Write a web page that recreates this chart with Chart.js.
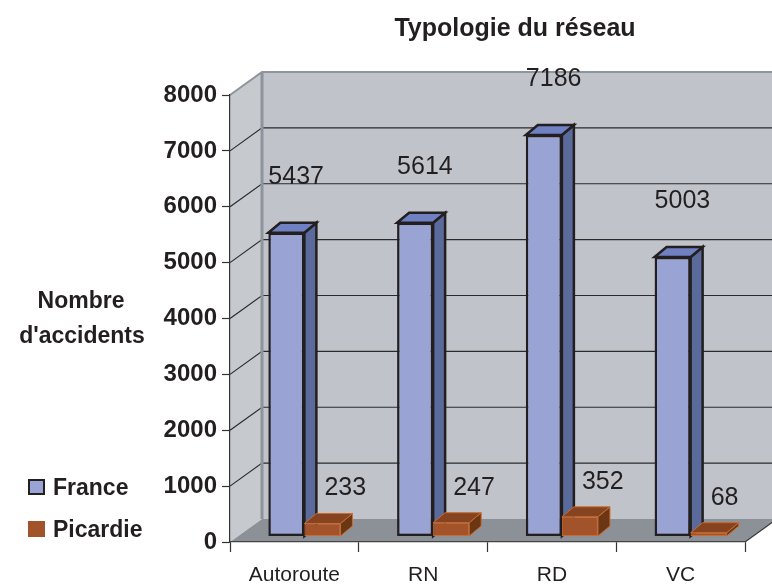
<!DOCTYPE html>
<html>
<head>
<meta charset="utf-8">
<script src="https://cdn.jsdelivr.net/npm/chart.js@4.4.1/dist/chart.umd.min.js"></script>
<style>
  html, body { margin: 0; padding: 0; background: #fff; }
  #wrap { width: 772px; height: 585px; position: relative; }
</style>
</head>
<body>
<div id="wrap"><canvas id="chart"></canvas></div>
<script>
const categories = ['Autoroute', 'RN', 'RD', 'VC'];
const franceValues = [5437, 5614, 7186, 5003];
const picardieValues = [233, 247, 352, 68];
const seriesNames = ['France', 'Picardie'];
const yTicks = [0, 1000, 2000, 3000, 4000, 5000, 6000, 7000, 8000];

const chartTitle = 'Typologie du réseau';
const yTitle = ['Nombre', "d'accidents"];

const FONT = "'Liberation Sans', Arial, sans-serif";
const INK = '#231F20';

// depth of the box (walls) and where the bars sit inside it
const WALL_DX = 32, WALL_DY = -23;
const BAR_DX = 10, BAR_DY = -5.5;
const FACE_DX = 12, FACE_DY = -10;

const faces = [
  { front: '#99A4D4', side: '#5A6A9B', top: '#6F80C3', line: INK, width: 2.5, labelX: 0, labelUp: 56 },
  { front: '#A3532A', side: '#6A3614', top: '#85431F', line: '#C96B31', width: 1, labelX: 20, labelUp: 35 }
];

function poly(ctx, pts, fill, stroke, lw) {
  ctx.beginPath();
  ctx.moveTo(pts[0][0], pts[0][1]);
  for (let i = 1; i < pts.length; i++) ctx.lineTo(pts[i][0], pts[i][1]);
  ctx.closePath();
  if (fill) { ctx.fillStyle = fill; ctx.fill(); }
  if (stroke) { ctx.strokeStyle = stroke; ctx.lineWidth = lw; ctx.lineJoin = 'miter'; ctx.stroke(); }
}

// side + top of one bar, from the element Chart.js laid out
function drawBox(ctx, bar, f) {
  const p = bar.getProps(['x', 'y', 'base', 'width'], true);
  const L = p.x - p.width / 2, R = p.x + p.width / 2;
  const top = Math.min(p.y, p.base), base = Math.max(p.y, p.base);
  poly(ctx, [[R, top], [R + FACE_DX, top + FACE_DY], [R + FACE_DX, base + FACE_DY], [R, base]], f.side, f.line, f.width);
  poly(ctx, [[L, top], [L + FACE_DX, top + FACE_DY], [R + FACE_DX, top + FACE_DY], [R, top]], f.top, f.line, f.width);
}

const box3d = {
  id: 'box3d',
  beforeDraw(chart) {
    const { ctx, chartArea: ca, scales } = chart;
    const y = scales.y;
    ctx.save();
    // side wall
    poly(ctx, [[ca.left, ca.top], [ca.left + WALL_DX, ca.top + WALL_DY],
      [ca.left + WALL_DX, ca.bottom + WALL_DY], [ca.left, ca.bottom]], '#C6CACF');
    // back wall
    poly(ctx, [[ca.left + WALL_DX, ca.top + WALL_DY], [ca.right + WALL_DX, ca.top + WALL_DY],
      [ca.right + WALL_DX, ca.bottom + WALL_DY], [ca.left + WALL_DX, ca.bottom + WALL_DY]], '#C0C4CA');
    // floor
    poly(ctx, [[ca.left, ca.bottom], [ca.left + WALL_DX, ca.bottom + WALL_DY],
      [ca.right + WALL_DX, ca.bottom + WALL_DY], [ca.right, ca.bottom]], '#8B9196');

    // grid lines on back wall and side wall
    ctx.strokeStyle = '#2A2A2A';
    ctx.lineWidth = 1.2;
    y.ticks.forEach(t => {
      if (t.value <= 0 || t.value >= y.max) return;
      const py = y.getPixelForValue(t.value);
      ctx.beginPath();
      ctx.moveTo(ca.left, py);
      ctx.lineTo(ca.left + WALL_DX, py + WALL_DY);
      ctx.lineTo(ca.right + WALL_DX, py + WALL_DY);
      ctx.stroke();
    });

    // wall edges
    ctx.strokeStyle = '#8E949B';
    ctx.lineWidth = 3;
    ctx.beginPath();
    ctx.moveTo(ca.left + WALL_DX, ca.bottom + WALL_DY);
    ctx.lineTo(ca.left + WALL_DX, ca.top + WALL_DY);
    ctx.stroke();
    ctx.lineWidth = 2;
    ctx.beginPath();
    ctx.moveTo(ca.left, ca.top);
    ctx.lineTo(ca.left + WALL_DX, ca.top + WALL_DY);
    ctx.lineTo(ca.right + WALL_DX, ca.top + WALL_DY);
    ctx.stroke();
    ctx.strokeStyle = '#3A3A3A';
    ctx.lineWidth = 1.2;
    ctx.beginPath();
    ctx.moveTo(ca.right, ca.bottom);
    ctx.lineTo(ca.right + WALL_DX, ca.bottom + WALL_DY);
    ctx.stroke();
    ctx.restore();
  },
  beforeDatasetsDraw(chart) {
    const { ctx } = chart;
    ctx.save();
    ctx.translate(BAR_DX, BAR_DY);
    // France sides go first so the Picardie boxes can hide them
    chart.getDatasetMeta(0).data.forEach(bar => drawBox(ctx, bar, faces[0]));
  },
  afterDatasetsDraw(chart) {
    const { ctx } = chart;
    chart.getDatasetMeta(1).data.forEach(bar => drawBox(ctx, bar, faces[1]));

    // value labels
    ctx.font = '25px ' + FONT;
    ctx.fillStyle = INK;
    ctx.textAlign = 'left';
    ctx.textBaseline = 'middle';
    chart.data.datasets.forEach((ds, di) => {
      const f = faces[di];
      chart.getDatasetMeta(di).data.forEach((bar, i) => {
        const p = bar.getProps(['x', 'y', 'width'], true);
        ctx.fillText(String(ds.data[i]), p.x - p.width / 2 + f.labelX, p.y - f.labelUp);
      });
    });
    ctx.restore();
  },
  afterDraw(chart) {
    const { ctx } = chart;
    ctx.save();
    ctx.fillStyle = INK;
    ctx.textBaseline = 'alphabetic';
    ctx.textAlign = 'center';
    ctx.font = 'bold 25px ' + FONT;
    ctx.fillText(chartTitle, 515, 36);

    ctx.font = 'bold 23px ' + FONT;
    ctx.fillText(yTitle[0], 81, 308);
    ctx.fillText(yTitle[1], 82, 343);

    // legend
    ctx.textAlign = 'left';
    const rows = [495, 537];
    chart.data.datasets.forEach((ds, di) => {
      const by = rows[di] - 16;
      ctx.fillStyle = faces[di].front;
      ctx.fillRect(28, by, 17, 16);
      if (di === 0) {
        ctx.strokeStyle = INK;
        ctx.lineWidth = 2;
        ctx.strokeRect(29, by + 1, 15, 14);
      }
      ctx.fillStyle = INK;
      ctx.fillText(ds.label, 53, rows[di]);
    });
    ctx.restore();
  }
};

new Chart(document.getElementById('chart'), {
  type: 'bar',
  data: {
    labels: categories,
    datasets: [
      {
        label: seriesNames[0],
        data: franceValues,
        backgroundColor: faces[0].front,
        borderColor: faces[0].line,
        borderWidth: 2.5,
        borderSkipped: false,
        clip: false
      },
      {
        label: seriesNames[1],
        data: picardieValues,
        backgroundColor: faces[1].front,
        borderColor: faces[1].line,
        borderWidth: 1,
        borderSkipped: false,
        clip: false
      }
    ]
  },
  options: {
    responsive: true,
    maintainAspectRatio: false,
    animation: false,
    categoryPercentage: 0.56,
    barPercentage: 1,
    layout: { padding: { left: 0, right: 27, top: 95, bottom: 0 } },
    plugins: {
      legend: { display: false },
      title: { display: false },
      tooltip: { enabled: false }
    },
    scales: {
      x: {
        afterFit: s => { s.height = 43; },
        grid: { drawOnChartArea: false, tickLength: 10, tickColor: '#333', tickWidth: 1.2, offset: true },
        border: { color: '#444', width: 1.2 },
        ticks: { font: { family: FONT, size: 21 }, color: INK, padding: 11, maxRotation: 0 }
      },
      y: {
        min: yTicks[0],
        max: yTicks[yTicks.length - 1],
        afterFit: s => { s.width = 230; },
        afterBuildTicks: s => { s.ticks = yTicks.map(v => ({ value: v })); },
        grid: { drawOnChartArea: false, tickLength: 8, tickColor: '#333', tickWidth: 1.2 },
        border: { color: '#333', width: 1.2 },
        ticks: {
          font: { family: FONT, size: 24, weight: 'bold' },
          color: INK,
          padding: 5,
          callback: v => String(v)
        }
      }
    }
  },
  plugins: [box3d]
});
</script>
</body>
</html>
